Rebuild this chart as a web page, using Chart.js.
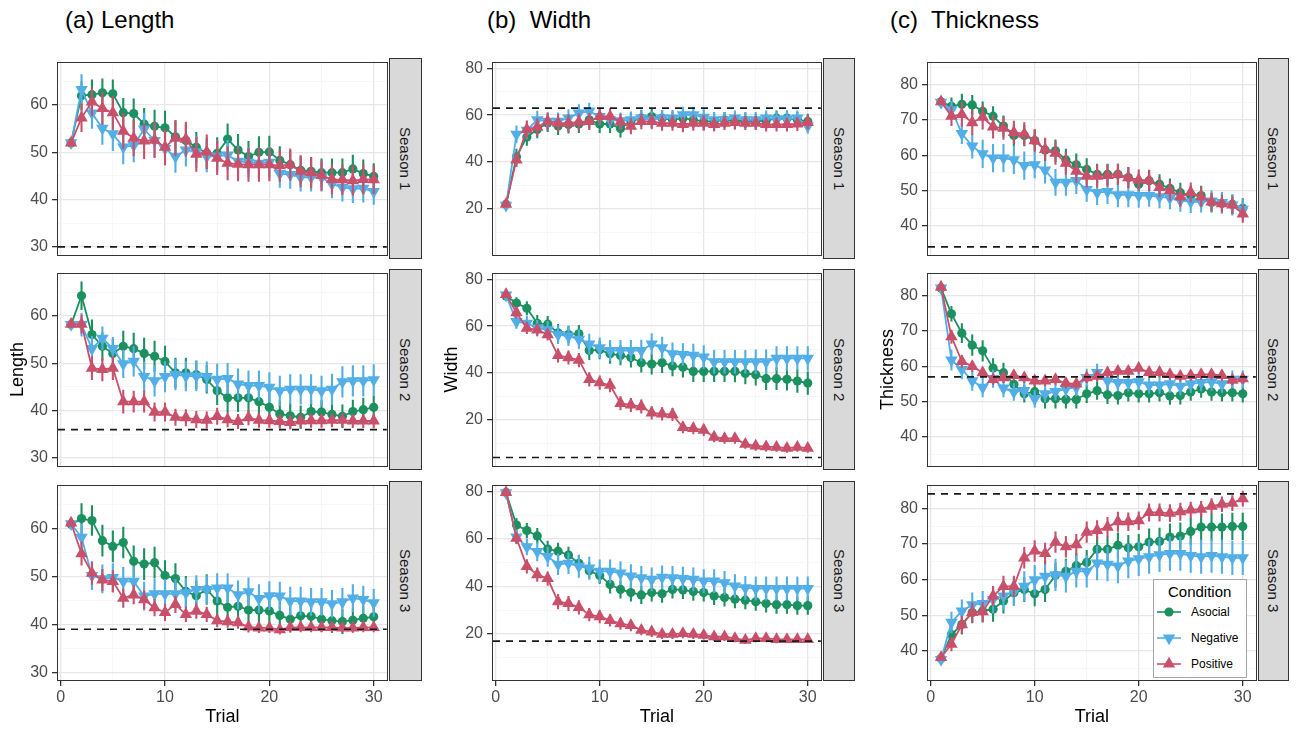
<!DOCTYPE html>
<html><head><meta charset="utf-8">
<script src="https://cdn.jsdelivr.net/npm/chart.js@4.4.1/dist/chart.umd.min.js"></script>
<style>
body{margin:0;background:#fff;width:1297px;height:729px;position:relative;overflow:hidden;font-family:"Liberation Sans",Arial,sans-serif}
canvas{position:absolute}
.hdr{position:absolute;font-size:24px;color:#000;white-space:pre;line-height:1}
.strip{position:absolute;background:#d9d9d9;border:1px solid #333;box-sizing:border-box;display:flex;align-items:center;justify-content:center}
.strip span{writing-mode:vertical-rl;font-size:15px;color:#1a1a1a}
#legend{position:absolute;left:1153px;top:579px;width:94px;height:99px;border:1px solid #a6a6a6;box-sizing:border-box;background:#fff}
#legend .t{position:absolute;left:14px;top:3px;font-size:15px;color:#000}
#legend .it{position:absolute;left:3px;height:20px;display:flex;align-items:center;font-size:12px;color:#000}
#legend svg{margin-right:10px}
</style></head>
<body>
<div class="hdr" style="left:65px;top:8px">(a) Length</div>
<div class="hdr" style="left:487px;top:8px">(b)  Width</div>
<div class="hdr" style="left:890px;top:8px">(c)  Thickness</div>
<script>
// ---------- data ----------
const trials = [1,2,3,4,5,6,7,8,9,10,11,12,13,14,15,16,17,18,19,20,21,22,23,24,25,26,27,28,29,30];
const conditions = ["Asocial","Negative","Positive"];
const seasons = ["Season 1","Season 2","Season 3"];
const measures = ["Length","Width","Thickness"];
const xTicks = [0,5,10,15,20,25,30];
const xMajor = [0,10,20,30];
const lengthYTicks = [30,35,40,45,50,55,60,65];
const lengthMajor = [30,40,50,60];
const widthYTicks = [10,20,30,40,50,60,70,80];
const widthMajor = [20,40,60,80];
const thickYTicks = [35,40,45,50,55,60,65,70,75,80,85];
const thickMajor = [40,50,60,70,80];
const lengthRange = [28.2, 69.2];
const widthRange = [0.2, 82.8];
const thickRange = [31.6, 86.6];
const lengthRef = [30, 36, 39];
const widthRef = [63, 4, 17];
const thickRef = [34, 57, 84];

// Length
const lenS1Asocial = [52.0,62.0,62.2,62.6,62.4,58.4,58.2,56.0,55.5,55.2,53.3,52.5,51.1,49.8,49.8,52.8,50.5,49.1,50.0,50.1,48.3,47.4,46.2,46.0,45.7,45.7,45.7,46.5,45.5,44.9];
const lenS1AsocialErr = [0.8,3.0,3.2,3.0,3.0,3.1,3.2,3.4,3.5,3.6,3.5,3.4,3.2,3.3,3.4,3.3,3.4,3.3,3.4,3.4,3.0,3.0,3.0,3.0,3.0,3.0,3.0,3.0,3.0,2.8];
const lenS1Negative = [52.0,63.3,58.3,55.1,53.9,51.1,51.5,54.9,52.5,50.8,49.1,50.5,50.1,49.1,49.2,49.4,48.1,47.9,47.7,47.9,45.5,45.3,44.7,44.7,44.7,43.3,42.6,42.3,42.4,41.7];
const lenS1NegativeErr = [0.8,3.2,3.3,3.5,3.6,3.6,3.6,3.5,3.5,3.6,3.4,3.5,3.4,3.3,3.3,3.2,3.2,3.2,3.2,3.2,3.0,3.0,3.0,3.0,3.0,3.0,3.0,3.0,3.0,2.8];
const lenS1Positive = [52.0,57.3,60.7,59.3,58.4,54.5,53.0,52.4,52.6,51.1,53.0,52.8,49.6,50.1,48.8,47.7,47.5,47.4,47.4,47.4,47.2,47.4,46.0,45.7,45.1,44.3,44.2,44.0,44.3,44.2];
const lenS1PositiveErr = [0.8,3.0,3.0,3.5,3.6,3.8,3.8,3.8,3.8,3.8,3.8,3.7,3.7,3.7,3.6,3.6,3.6,3.6,3.6,3.5,3.4,3.4,3.4,3.3,3.2,3.2,3.2,3.2,3.2,3.0];

const lenS2Asocial = [58.2,64.3,56.1,53.6,52.1,53.6,53.1,52.1,51.5,50.4,48.0,48.0,47.6,46.6,44.2,42.7,42.7,42.7,41.9,40.7,39.3,38.9,38.6,39.8,39.7,39.2,38.8,39.8,40.2,40.7];
const lenS2AsocialErr = [0.8,3.0,3.2,3.0,3.0,3.3,3.4,3.3,3.3,3.3,3.2,3.2,3.0,3.0,3.0,3.0,3.0,3.0,3.0,3.0,2.8,2.6,2.5,2.5,2.5,2.5,2.5,2.5,2.5,2.5];
const lenS2Negative = [58.2,58.2,53.1,55.3,53.1,49.9,50.4,47.2,46.3,47.2,47.6,47.3,47.3,47.2,46.6,46.8,45.6,45.3,45.3,44.9,44.2,44.5,44.5,44.5,44.2,44.5,46.1,46.3,46.3,46.5];
const lenS2NegativeErr = [0.8,2.5,2.7,2.5,2.5,3.0,3.2,3.2,3.3,3.3,3.3,3.2,3.2,3.2,3.3,3.3,3.3,3.2,3.2,3.2,3.2,3.2,3.2,3.2,3.2,3.3,3.3,3.3,3.3,3.3];
const lenS2Positive = [58.3,58.3,49.0,48.7,49.0,41.9,41.9,41.9,39.7,39.7,38.6,38.5,38.1,38.0,38.8,38.1,37.7,38.5,38.0,37.9,37.7,37.5,37.8,37.9,37.9,38.0,38.0,37.8,37.8,37.8];
const lenS2PositiveErr = [0.8,2.0,2.5,2.5,2.5,2.5,2.3,2.3,2.0,2.0,1.8,1.8,1.8,1.8,1.8,1.6,1.6,1.6,1.6,1.5,1.5,1.5,1.5,1.5,1.5,1.5,1.5,1.5,1.5,1.5];

const lenS3Asocial = [60.9,62.1,61.7,57.5,56.3,57.1,53.2,52.6,52.9,50.2,49.6,46.9,46.0,47.3,44.9,43.6,43.8,43.0,43.0,42.8,41.9,41.1,41.8,41.7,41.1,40.8,40.6,40.9,41.3,41.6];
const lenS3AsocialErr = [0.8,3.2,3.2,3.3,3.3,3.3,3.3,3.3,3.3,3.2,3.2,3.2,3.2,3.2,3.2,3.0,3.0,3.0,3.0,3.0,2.8,2.8,2.8,2.8,2.6,2.6,2.6,2.6,2.5,2.5];
const lenS3Negative = [61.0,58.2,50.2,49.5,49.8,49.0,49.0,45.9,46.4,46.4,46.4,46.6,47.3,47.3,47.6,47.6,46.2,46.8,45.4,46.0,45.9,44.9,44.9,44.7,44.7,44.3,44.7,45.5,45.2,44.5];
const lenS3NegativeErr = [0.8,2.8,3.0,3.0,3.0,3.0,3.1,3.0,3.1,3.1,3.1,3.1,3.0,3.0,3.1,3.1,3.0,3.0,3.0,3.0,3.0,3.0,3.0,2.9,2.9,2.9,2.9,2.9,2.9,2.9];
const lenS3Positive = [61.2,54.8,50.7,49.3,49.0,45.5,46.2,45.2,43.5,42.5,44.2,42.1,42.8,42.1,40.8,40.6,40.4,39.5,39.3,39.3,38.9,39.4,39.4,39.4,39.4,39.4,39.3,39.3,39.4,39.4];
const lenS3PositiveErr = [0.8,2.5,2.4,2.3,2.3,2.0,2.0,2.0,1.8,1.8,1.8,1.6,1.6,1.6,1.4,1.3,1.3,1.2,1.1,1.1,1.0,1.0,1.0,1.0,1.0,1.0,1.0,1.0,1.0,1.0];

// Width
const widS1Asocial = [22.0,42.2,50.7,53.9,56.6,55.3,56.0,56.2,58.0,56.2,56.2,54.3,57.3,58.7,59.4,58.7,58.0,58.7,58.0,57.3,57.3,58.0,57.3,57.7,57.3,57.6,58.7,58.7,58.0,57.3];
const widS1AsocialErr = [1.0,3.5,3.8,3.8,3.8,3.8,3.8,3.8,3.8,3.8,3.8,3.8,3.6,3.6,3.6,3.5,3.5,3.5,3.5,3.5,3.3,3.3,3.3,3.3,3.3,3.3,3.3,3.3,3.3,3.3];
const widS1Negative = [21.5,51.8,53.5,58.0,57.3,57.3,58.7,60.8,61.7,59.4,58.0,57.6,58.0,58.7,58.0,58.7,58.7,60.1,60.1,59.0,58.0,58.0,58.7,58.0,58.0,58.7,58.3,58.3,58.7,55.3];
const widS1NegativeErr = [1.0,3.8,3.8,3.8,3.8,3.8,3.8,3.8,3.6,3.6,3.5,3.5,3.5,3.5,3.5,3.5,3.5,3.5,3.5,3.5,3.3,3.3,3.3,3.3,3.3,3.3,3.3,3.3,3.3,3.3];
const widS1Positive = [22.0,40.9,53.9,54.9,57.3,56.6,56.6,57.1,57.3,59.4,59.4,57.1,55.3,57.3,57.3,56.6,56.6,56.0,56.6,56.6,56.0,56.6,56.9,56.6,56.6,56.0,56.0,56.0,56.2,56.9];
const widS1PositiveErr = [1.0,3.0,3.8,3.8,3.8,3.8,3.8,3.6,3.6,3.5,3.5,3.5,3.5,3.3,3.3,3.3,3.3,3.3,3.3,3.3,3.0,3.0,3.0,3.0,3.0,3.0,3.0,3.0,3.0,3.0];

const widS2Asocial = [72.8,69.8,67.6,61.2,60.8,57.1,56.4,56.7,49.6,49.9,48.2,47.5,46.6,44.4,43.8,44.4,43.0,42.5,40.7,40.7,40.7,40.7,40.7,39.8,39.3,37.6,37.6,37.3,36.6,35.7];
const widS2AsocialErr = [1.0,2.5,3.0,3.5,3.5,3.8,3.8,3.8,4.0,4.0,4.2,4.2,4.2,4.2,4.4,4.4,4.4,4.4,4.5,4.5,4.5,4.5,4.6,4.6,4.6,4.8,4.8,4.8,5.0,5.0];
const widS2Negative = [73.2,61.9,61.2,59.1,58.4,56.4,55.7,54.4,52.3,50.7,49.6,49.6,49.6,49.6,52.3,50.7,48.2,47.9,47.5,46.8,44.8,44.8,44.8,44.8,44.8,44.8,46.2,46.2,46.2,46.2];
const widS2NegativeErr = [1.0,3.0,3.2,3.5,3.8,4.0,4.2,4.2,4.4,4.4,4.5,4.5,4.5,4.6,4.6,4.8,4.8,4.8,5.0,5.0,5.0,5.0,5.0,5.0,5.2,5.2,5.2,5.2,5.2,5.2];
const widS2Positive = [73.5,65.7,59.1,58.4,56.4,47.5,46.6,45.5,37.3,35.9,34.8,27.1,26.4,25.7,23.0,22.6,22.3,16.8,16.4,15.7,12.7,12.1,12.1,9.7,8.9,8.6,8.4,8.0,8.4,8.0];
const widS2PositiveErr = [1.0,2.5,2.5,2.5,2.5,3.0,3.0,3.0,3.0,3.0,3.0,3.0,3.0,3.0,2.8,2.8,2.8,2.5,2.5,2.5,2.2,2.2,2.2,2.0,2.0,2.0,2.0,2.0,2.0,2.0];

const widS3Asocial = [79.5,65.8,63.5,61.2,55.7,54.8,53.2,49.7,46.6,44.6,40.8,38.7,37.4,36.4,37.4,36.9,38.7,38.5,37.8,37.4,36.0,35.3,34.6,34.2,33.5,32.8,32.3,32.3,31.9,31.9];
const widS3AsocialErr = [1.0,3.0,3.2,3.3,3.5,3.5,3.5,3.6,3.6,3.6,3.8,3.8,3.8,3.8,3.8,3.8,3.8,3.8,3.8,3.8,3.8,3.8,3.8,3.8,3.8,3.8,3.8,3.8,3.8,3.8];
const widS3Negative = [79.3,60.7,56.6,54.6,52.5,49.3,49.7,48.4,47.7,46.3,46.3,45.6,44.3,43.6,42.9,43.8,43.6,43.3,42.9,42.2,42.2,41.5,40.1,39.4,39.1,39.1,39.1,39.1,39.1,39.1];
const widS3NegativeErr = [1.0,3.0,3.5,4.0,4.2,4.5,4.5,4.8,4.8,5.0,5.0,5.0,5.0,5.0,5.0,5.0,5.0,5.0,5.0,5.0,5.0,5.0,5.0,5.0,5.0,5.0,5.0,5.0,5.0,5.0];
const widS3Positive = [79.5,60.3,48.4,44.9,43.3,33.6,32.8,31.2,28.1,27.3,25.7,24.3,23.6,21.6,20.9,19.9,19.9,20.2,19.9,19.5,18.8,18.8,18.1,17.4,18.1,18.1,17.7,17.7,17.7,17.7];
const widS3PositiveErr = [1.0,2.5,3.0,3.0,3.0,3.2,3.2,3.0,2.8,2.8,2.6,2.5,2.5,2.2,2.2,2.0,2.0,2.0,2.0,1.8,1.8,1.8,1.6,1.6,1.6,1.6,1.6,1.5,1.5,1.5];

// Thickness
const thkS1Asocial = [75.2,73.9,74.5,74.3,72.5,71.1,68.3,65.6,65.6,64.2,61.5,61.3,58.7,57.3,56.0,54.6,54.6,54.6,53.7,51.8,52.8,51.8,50.6,49.4,48.6,48.6,46.6,46.3,46.1,45.0];
const thkS1AsocialErr = [0.8,2.5,3.0,2.8,2.8,2.8,3.0,3.0,3.0,3.0,3.2,3.2,3.2,3.2,3.2,3.0,3.0,3.0,3.0,3.0,3.0,2.8,2.8,2.8,2.8,2.8,2.8,2.8,2.8,2.8];
const thkS1Negative = [75.0,72.9,66.2,62.6,60.4,59.2,59.2,58.7,57.1,57.3,55.8,52.3,52.3,52.8,50.3,49.4,49.7,48.8,48.8,48.6,48.6,48.2,47.9,47.2,46.8,46.8,47.0,46.6,45.9,44.7];
const thkS1NegativeErr = [0.8,2.5,3.0,3.5,4.0,4.0,4.0,4.0,4.0,3.8,3.8,3.8,3.8,3.8,3.5,3.5,3.5,3.5,3.5,3.5,3.2,3.2,3.2,3.2,3.2,3.0,3.0,3.0,3.0,3.0];
const thkS1Positive = [75.2,71.1,71.6,69.3,70.8,68.1,67.7,66.5,66.1,64.2,61.7,60.6,57.8,55.5,54.1,54.1,54.3,54.6,53.7,53.0,52.9,50.9,50.0,48.2,49.5,48.2,46.8,46.3,45.9,43.4];
const thkS1PositiveErr = [0.8,2.8,3.5,3.5,3.5,3.3,3.3,3.3,3.3,3.3,3.3,3.3,3.3,3.3,3.2,3.2,3.2,3.0,3.0,3.0,3.0,2.8,2.8,2.8,2.8,2.8,2.5,2.5,2.5,2.5];

const thkS2Asocial = [82.2,74.9,69.4,66.0,64.4,59.5,58.2,54.9,52.2,52.8,50.8,50.8,50.6,50.6,52.2,53.1,51.9,51.7,52.5,52.2,52.2,52.5,51.6,51.7,52.7,53.6,52.7,52.5,52.5,52.2];
const thkS2AsocialErr = [0.8,2.2,2.8,3.0,3.0,2.8,2.8,2.6,2.5,2.8,2.8,2.8,2.6,2.6,2.6,2.6,2.6,2.5,2.5,2.5,2.5,2.5,2.5,2.5,2.5,2.5,2.5,2.5,2.5,2.5];
const thkS2Negative = [82.2,61.8,59.1,55.9,54.0,56.5,53.8,52.7,53.1,50.8,52.2,52.8,53.6,54.0,56.8,58.2,55.9,55.4,55.4,55.6,54.7,54.7,55.0,54.3,55.0,55.4,55.6,55.0,56.3,56.3];
const thkS2NegativeErr = [0.8,3.0,2.8,2.8,2.8,2.6,2.6,2.5,2.5,2.5,2.5,2.5,2.5,2.5,2.5,2.5,2.5,2.5,2.5,2.5,2.5,2.5,2.5,2.5,2.5,2.5,2.5,2.5,2.5,2.5];
const thkS2Positive = [82.5,68.4,61.4,60.0,58.2,56.3,56.8,57.4,56.8,55.9,55.9,56.3,55.2,55.0,56.8,57.2,58.2,58.6,58.6,59.5,58.3,58.3,57.7,57.2,57.4,57.7,57.7,57.4,56.1,56.5];
const thkS2PositiveErr = [0.8,2.0,1.8,1.6,1.5,1.5,1.5,1.5,1.5,1.5,1.5,1.5,1.5,1.5,1.5,1.5,1.5,1.5,1.5,1.5,1.5,1.5,1.5,1.5,1.5,1.5,1.5,1.5,1.5,1.5];

const thkS3Asocial = [37.9,44.6,47.4,50.8,51.2,51.7,54.0,56.3,57.2,56.0,57.2,61.2,62.3,63.9,64.8,68.5,68.5,69.6,68.9,69.2,70.5,70.7,71.9,72.2,73.5,74.7,74.7,74.7,74.9,74.9];
const thkS3AsocialErr = [0.8,2.5,2.8,3.0,3.2,3.5,3.5,3.5,3.5,3.5,3.5,3.5,3.5,3.5,3.5,3.6,3.6,3.6,3.6,3.6,3.8,3.8,3.8,3.8,3.8,3.8,3.8,3.8,3.8,3.8];
const thkS3Negative = [37.6,48.0,51.2,52.9,53.3,54.4,55.4,56.6,58.1,59.9,60.9,61.3,60.9,62.3,62.3,64.6,64.3,63.8,65.2,65.8,66.4,66.9,67.3,67.3,66.7,66.4,66.7,66.4,66.1,66.1];
const thkS3NegativeErr = [0.8,3.0,3.2,3.5,3.5,3.8,4.0,4.0,4.2,4.2,4.5,4.5,4.5,4.5,4.5,4.8,4.8,4.8,4.8,4.8,4.8,4.8,4.8,4.8,4.8,4.8,4.8,4.8,4.8,4.8];
const thkS3Positive = [38.2,41.9,47.4,50.8,51.0,55.4,58.1,58.1,66.1,68.0,67.3,70.5,69.2,69.8,73.3,73.8,74.7,76.2,76.2,76.5,78.8,78.8,78.6,79.0,79.5,79.7,80.6,81.1,81.4,82.7];
const thkS3PositiveErr = [0.8,2.0,2.5,2.8,2.8,2.8,3.0,3.0,3.0,3.0,3.0,3.0,3.0,3.0,3.0,2.8,2.8,2.8,2.6,2.6,2.5,2.5,2.5,2.5,2.3,2.3,2.2,2.2,2.2,2.2];

// ---------- styling ----------
const FONT = '"Liberation Sans", Arial, sans-serif';
const colors = {Asocial:'#1b9160', Negative:'#52aee6', Positive:'#c9506b'};
const pointStyles = {Asocial:{style:'circle',r:4.6,rot:0}, Negative:{style:'triangle',r:7.2,rot:180}, Positive:{style:'triangle',r:7.2,rot:0}};
const drawOrder = {Asocial:2, Negative:1, Positive:0};

const panels = [
  {ticks:lengthYTicks, major:lengthMajor, range:lengthRange, ref:lengthRef,
   series:[[lenS1Asocial,lenS1AsocialErr,lenS1Negative,lenS1NegativeErr,lenS1Positive,lenS1PositiveErr],
           [lenS2Asocial,lenS2AsocialErr,lenS2Negative,lenS2NegativeErr,lenS2Positive,lenS2PositiveErr],
           [lenS3Asocial,lenS3AsocialErr,lenS3Negative,lenS3NegativeErr,lenS3Positive,lenS3PositiveErr]]},
  {ticks:widthYTicks, major:widthMajor, range:widthRange, ref:widthRef,
   series:[[widS1Asocial,widS1AsocialErr,widS1Negative,widS1NegativeErr,widS1Positive,widS1PositiveErr],
           [widS2Asocial,widS2AsocialErr,widS2Negative,widS2NegativeErr,widS2Positive,widS2PositiveErr],
           [widS3Asocial,widS3AsocialErr,widS3Negative,widS3NegativeErr,widS3Positive,widS3PositiveErr]]},
  {ticks:thickYTicks, major:thickMajor, range:thickRange, ref:thickRef,
   series:[[thkS1Asocial,thkS1AsocialErr,thkS1Negative,thkS1NegativeErr,thkS1Positive,thkS1PositiveErr],
           [thkS2Asocial,thkS2AsocialErr,thkS2Negative,thkS2NegativeErr,thkS2Positive,thkS2PositiveErr],
           [thkS3Asocial,thkS3AsocialErr,thkS3Negative,thkS3NegativeErr,thkS3Positive,thkS3PositiveErr]]}
];

// layout (pixels)
const colLayout = [{canvasL:0, plotL:57, plotR:390, stripR:422, titlePad:7},
                   {canvasL:430, plotL:492, plotR:824, stripR:855, titlePad:11},
                   {canvasL:862, plotL:927, plotR:1259, stripR:1289, titlePad:15.5}];
const rowLayout = [{top:58, bot:259}, {top:269, bot:470}, {top:481, bot:681}];

// ---------- plugins ----------
const errorBars = {
  id:'errorBars',
  beforeDatasetDraw(chart, args){
    const ds = chart.data.datasets[args.index];
    if(!ds.errors) return;
    const ctx = chart.ctx, ys = chart.scales.y, ca = chart.chartArea;
    ctx.save();
    ctx.beginPath(); ctx.rect(ca.left, ca.top, ca.right-ca.left, ca.bottom-ca.top); ctx.clip();
    ctx.strokeStyle = ds.borderColor; ctx.lineWidth = 2.1; ctx.lineCap = 'butt';
    args.meta.data.forEach((pt, i) => {
      const v = ds.data[i].y, e = ds.errors[i];
      ctx.beginPath();
      ctx.moveTo(pt.x, ys.getPixelForValue(v - e));
      ctx.lineTo(pt.x, ys.getPixelForValue(v + e));
      ctx.stroke();
    });
    ctx.restore();
  }
};
const refLine = {
  id:'refLine',
  afterDatasetsDraw(chart, args, opts){
    const ys = chart.scales.y, ca = chart.chartArea, ctx = chart.ctx;
    const y = ys.getPixelForValue(opts.value);
    ctx.save();
    ctx.strokeStyle = '#1a1a1a'; ctx.lineWidth = 1.7; ctx.setLineDash([7,6]);
    ctx.beginPath(); ctx.moveTo(ca.left + 1, y); ctx.lineTo(ca.right - 1, y); ctx.stroke();
    ctx.restore();
  }
};
const panelBorder = {
  id:'panelBorder',
  afterDraw(chart){
    const ca = chart.chartArea, ctx = chart.ctx;
    ctx.save(); ctx.strokeStyle = '#333333'; ctx.lineWidth = 1;
    ctx.strokeRect(Math.round(ca.left) + 0.5, Math.round(ca.top) + 0.5, Math.round(ca.right - ca.left) - 1, Math.round(ca.bottom - ca.top) - 1);
    ctx.restore();
  }
};

// ---------- build charts ----------
panels.forEach((p, c) => {
  const col = colLayout[c];
  rowLayout.forEach((row, r) => {
    const bottomRow = r === 2;
    const yW = col.plotL - col.canvasL;
    const cv = document.createElement('canvas');
    const W = col.plotR + 5 - col.canvasL;
    const H = 10 + (row.bot - row.top) + (bottomRow ? 48 : 10);
    cv.width = W; cv.height = H;
    cv.style.left = col.canvasL + 'px'; cv.style.top = (row.top - 10) + 'px';
    cv.style.width = W + 'px'; cv.style.height = H + 'px';
    document.body.appendChild(cv);
    const s = p.series[r];
    const datasets = conditions.map((name, k) => ({
      label: name,
      data: trials.map((t, i) => ({x: t, y: s[2*k][i]})),
      errors: s[2*k+1],
      borderColor: colors[name], backgroundColor: colors[name],
      borderWidth: 1.8,
      pointStyle: pointStyles[name].style, pointRadius: pointStyles[name].r,
      pointRotation: pointStyles[name].rot, pointBorderWidth: 0,
      pointBackgroundColor: colors[name],
      tension: 0, order: drawOrder[name], clip: false
    }));
    new Chart(cv, {
      type: 'line',
      data: {datasets},
      plugins: [errorBars, refLine, panelBorder],
      options: {
        animation: false, responsive: false, devicePixelRatio: 1,
        layout: {padding: {top: 10, right: 5, bottom: bottomRow ? 0 : 10, left: 0}},
        plugins: {legend: {display: false}, tooltip: {enabled: false}, refLine: {value: p.ref[r]}},
        scales: {
          x: {
            type: 'linear', min: -0.35, max: 31.35,
            afterBuildTicks: sc => { sc.ticks = xTicks.map(v => ({value: v})); },
            afterFit: sc => { sc.height = bottomRow ? 48 : 0; },
            border: {display: false},
            grid: {
              color: ctx => xMajor.includes(ctx.tick.value) ? '#e6e6e6' : '#f3f3f3',
              lineWidth: ctx => xMajor.includes(ctx.tick.value) ? 1.3 : 0.7,
              tickColor: ctx => xMajor.includes(ctx.tick.value) ? '#333333' : 'rgba(0,0,0,0)',
              tickLength: 5, drawTicks: bottomRow
            },
            ticks: {display: bottomRow, autoSkip: false, maxRotation: 0, padding: 2,
              color: '#4d4d4d', font: {family: FONT, size: 16},
              callback: v => xMajor.includes(v) ? String(v) : ''},
            title: {display: bottomRow, text: 'Trial', color: '#000', font: {family: FONT, size: 18}, padding: {top: 0, bottom: 1}}
          },
          y: {
            type: 'linear', min: p.range[0], max: p.range[1],
            afterBuildTicks: sc => { sc.ticks = p.ticks.map(v => ({value: v})); },
            afterFit: sc => { sc.width = yW; },
            border: {display: false},
            grid: {
              color: ctx => p.major.includes(ctx.tick.value) ? '#e6e6e6' : '#f3f3f3',
              lineWidth: ctx => p.major.includes(ctx.tick.value) ? 1.3 : 0.7,
              tickColor: ctx => p.major.includes(ctx.tick.value) ? '#333333' : 'rgba(0,0,0,0)',
              tickLength: 5, drawTicks: true
            },
            ticks: {autoSkip: false, padding: 4, color: '#4d4d4d', font: {family: FONT, size: 16},
              callback: v => p.major.includes(v) ? String(v) : ''},
            title: {display: r === 1, text: measures[c], color: '#000', font: {family: FONT, size: 18}, padding: {top: col.titlePad, bottom: 0}}
          }
        }
      }
    });
    const st = document.createElement('div');
    st.className = 'strip';
    st.style.left = (col.plotR - 1) + 'px'; st.style.top = row.top + 'px';
    st.style.width = (col.stripR - col.plotR + 1) + 'px'; st.style.height = (row.bot - row.top) + 'px';
    st.innerHTML = '<span>' + seasons[r] + '</span>';
    document.body.appendChild(st);
  });
});

// ---------- legend ----------
const lg = document.createElement('div'); lg.id = 'legend';
let html = '<div class="t">Condition</div>';
const shapes = {
  Asocial: c => `<circle cx="12" cy="10" r="4.6" fill="${c}"/>`,
  Negative: c => `<polygon points="5.8,6.4 18.2,6.4 12,17.2" fill="${c}"/>`,
  Positive: c => `<polygon points="12,2.8 18.2,13.6 5.8,13.6" fill="${c}"/>`
};
conditions.forEach((name, k) => {
  const c = colors[name];
  html += `<div class="it" style="top:${22 + k*26}px"><svg width="24" height="20"><line x1="0" y1="10" x2="24" y2="10" stroke="${c}" stroke-width="1.6"/>${shapes[name](c)}</svg>${name}</div>`;
});
lg.innerHTML = html;
document.body.appendChild(lg);
</script>
</body></html>
